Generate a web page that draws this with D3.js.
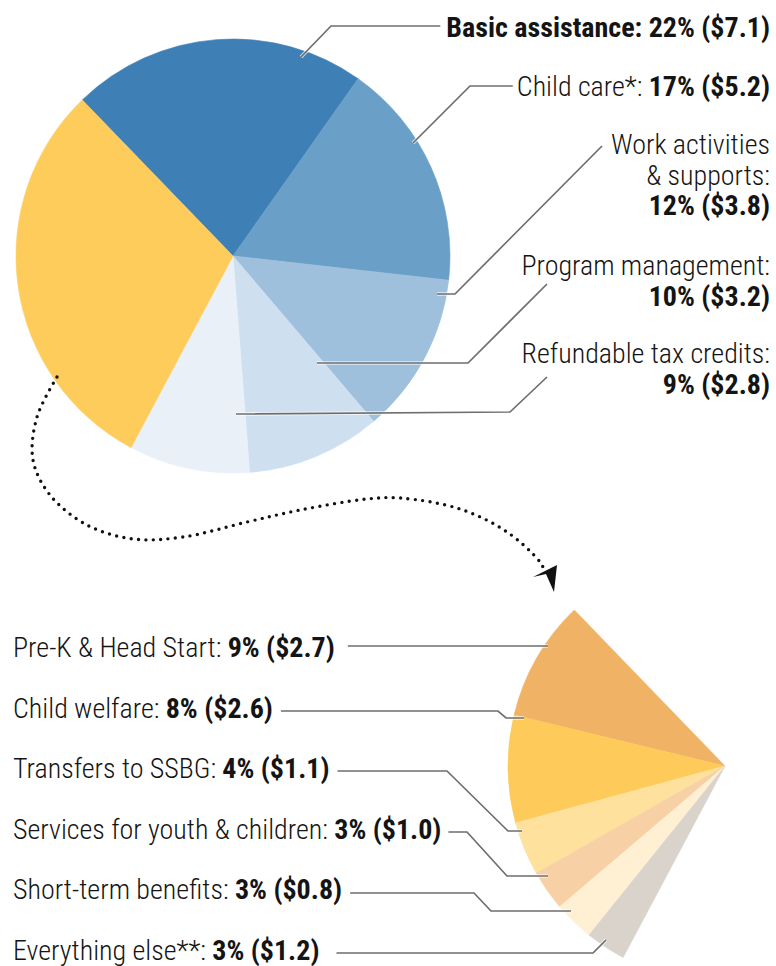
<!DOCTYPE html>
<html>
<head>
<meta charset="utf-8">
<script src="https://cdn.jsdelivr.net/npm/d3@7"></script>
<style>
  html, body { margin: 0; padding: 0; background: #fff; }
  svg { display: block; }
  text { font-family: "Roboto Condensed", "Liberation Sans Narrow", "DejaVu Sans Condensed", sans-serif; fill: #141414; }
</style>
</head>
<body>
<svg id="chart" width="776" height="966"></svg>
<script>
// Spending shares: the main pie, then the breakdown of its remaining slice.
const mainCategories = ["Basic assistance", "Child care*", "Work activities & supports", "Program management", "Refundable tax credits", "Other"];
const mainPercent = [22, 17, 12, 10, 9, 30];
const mainDollars = [7.1, 5.2, 3.8, 3.2, 2.8, 9.4];

const fanCategories = ["Pre-K & Head Start", "Child welfare", "Transfers to SSBG", "Services for youth & children", "Short-term benefits", "Everything else**"];
const fanPercent = [9, 8, 4, 3, 3, 3];
const fanDollars = [2.7, 2.6, 1.1, 1.0, 0.8, 1.2];

const mainColors = ["#3e80b5", "#6aa0c8", "#9fc0dc", "#cedff0", "#eaf0f8", "#fecc5b"];
const fanColors = ["#f0b265", "#fecb5a", "#fee19d", "#f8d0a5", "#fff0d3", "#dad3cb"];

const svg = d3.select("#chart");
const deg = Math.PI / 180;
const R = 217;
const mainCenter = [233, 256];
const fanCenter = [725, 766];

const valueText = (p, d) => `${p}% ($${d.toFixed(1)})`;

// ---- main pie ----
const mainData = mainCategories.map((c, i) => ({ name: c, pct: mainPercent[i], usd: mainDollars[i], color: mainColors[i] }));
const pie = d3.pie().sort(null).value(d => d.pct).startAngle(-44 * deg).endAngle(316 * deg);
const mainArcs = pie(mainData);
const arc = d3.arc().innerRadius(0).outerRadius(R);

const gMain = svg.append("g").attr("transform", `translate(${mainCenter})`);
gMain.selectAll("path").data(mainArcs).join("path")
  .attr("d", arc)
  .attr("fill", d => d.data.color)
  .attr("stroke", d => d.data.color)
  .attr("stroke-width", 0.6);

// ---- breakdown fan: same angular span as the "Other" slice ----
const other = mainArcs[mainArcs.length - 1];
const fanData = fanCategories.map((c, i) => ({ name: c, pct: fanPercent[i], usd: fanDollars[i], color: fanColors[i] }));
const fanPie = d3.pie().sort(null).value(d => d.pct)
  .startAngle(other.endAngle).endAngle(other.startAngle);
const fanArcs = fanPie(fanData);

const gFan = svg.append("g").attr("transform", `translate(${fanCenter})`);
gFan.selectAll("path").data(fanArcs).join("path")
  .attr("d", d => arc({ startAngle: Math.min(d.startAngle, d.endAngle), endAngle: Math.max(d.startAngle, d.endAngle) }))
  .attr("fill", d => d.data.color)
  .attr("stroke", d => d.data.color)
  .attr("stroke-width", 0.6);

const gLead = svg.append("g").attr("fill", "none").attr("stroke-linejoin", "miter");
const gLab = svg.append("g");

// ---- main labels (right aligned) ----
const FS = 28;
const REG = 300, BOLD = 700;
const mainLabelLayout = [
  { lines: [[{ t: d => `${d.name}: ${valueText(d.pct, d.usd)}`, b: true }]], y: 37 },
  { lines: [[{ t: d => `${d.name}: `, b: false }, { t: d => valueText(d.pct, d.usd), b: true }]], y: 96 },
  { lines: [[{ t: () => "Work activities", b: false }], [{ t: () => "& supports:", b: false }], [{ t: d => valueText(d.pct, d.usd), b: true }]], y: 154 },
  { lines: [[{ t: d => `${d.name}:`, b: false }], [{ t: d => valueText(d.pct, d.usd), b: true }]], y: 275 },
  { lines: [[{ t: d => `${d.name}:`, b: false }], [{ t: d => valueText(d.pct, d.usd), b: true }]], y: 363 }
];
const lineGap = 30.5;
const mainFirstLines = [];
mainLabelLayout.forEach((lay, i) => {
  const d = mainData[i];
  lay.lines.forEach((parts, j) => {
    const t = gLab.append("text").attr("font-size", FS)
      .attr("x", 770).attr("y", lay.y + j * lineGap).attr("text-anchor", "end");
    parts.forEach(p => t.append("tspan").attr("font-weight", p.b ? BOLD : REG).text(p.t(d)));
    if (j === 0) mainFirstLines.push(t.node().getBBox());
  });
});

// ---- breakdown labels (left aligned) ----
const fanLabelY = d3.scaleLinear().domain([0, fanData.length - 1]).range([657, 960]);
const fanBoxes = fanData.map((d, i) => {
  const t = gLab.append("text").attr("font-size", FS).attr("x", 13).attr("y", fanLabelY(i));
  t.append("tspan").attr("font-weight", REG).text(`${d.name}: `);
  t.append("tspan").attr("font-weight", BOLD).text(valueText(d.pct, d.usd));
  return t.node().getBBox();
});

// ---- leader lines: label side starts at the text, slice side ends inside its slice ----
const mainLeaders = [
  [[mainFirstLines[0].x - 6, 26], [331, 26], [301, 57]],
  [[mainFirstLines[1].x - 4, 86], [470, 86], [413, 143]],
  [[mainFirstLines[2].x - 9, 146], [455, 294], [437, 294]],
  [[547, 284], [468, 363], [317, 363]],
  [[547, 377], [510, 412], [236, 414]]
];
const fanGaps = [13, 8, 8, 7, 8, 17];
const fanTails = [
  [[548, 646]],
  [[498, 711], [506, 718], [524, 718]],
  [[447, 771], [508, 831], [522, 831]],
  [[467, 832], [507, 876], [548, 876]],
  [[474, 893], [491, 911], [571, 911]],
  [[593, 953], [606, 940]]
];
const fanLeaders = fanTails.map((tail, i) => [[fanBoxes[i].x + fanBoxes[i].width + fanGaps[i], tail[0][1]], ...tail]);

const leaderLine = d3.line();
[...mainLeaders, ...fanLeaders].forEach(pts => {
  gLead.append("path").attr("d", leaderLine(pts))
    .attr("stroke", "#ffffff").attr("stroke-opacity", 0.7).attr("stroke-width", 3.6);
  gLead.append("path").attr("d", leaderLine(pts))
    .attr("stroke", "#6e6e6e").attr("stroke-width", 1.7);
});

// ---- dotted connector from the pie to the breakdown ----
const connector = [[57, 377], [37, 417], [33, 460], [50, 495], [87, 525], [133, 539], [183, 537], [247, 522], [300, 510], [367, 499], [400, 498], [460, 509], [507, 532], [540, 562], [545, 572]];
svg.append("path")
  .attr("d", d3.line().curve(d3.curveCatmullRom)(connector))
  .attr("fill", "none")
  .attr("stroke", "#111")
  .attr("stroke-width", 3.4)
  .attr("stroke-linecap", "round")
  .attr("stroke-dasharray", "0 7.4");
svg.append("path")
  .attr("d", "M554,592 L546,574 L533,577 L557,565 Z")
  .attr("fill", "#111");
</script>
</body>
</html>
